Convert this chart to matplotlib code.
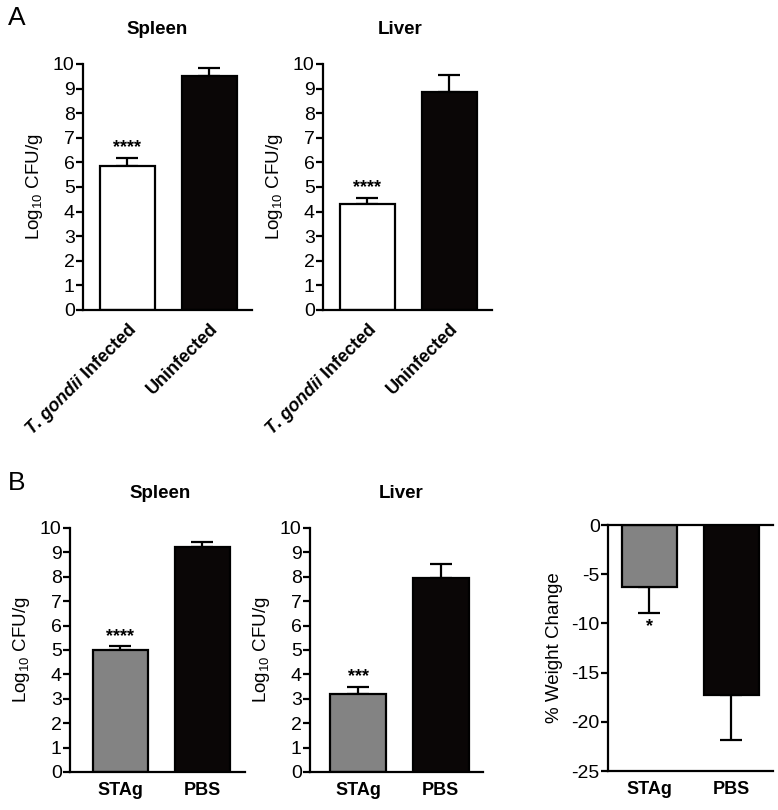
import matplotlib.pyplot as plt

plt.rcParams['font.family'] = ['Liberation Sans', 'DejaVu Sans']
plt.rcParams['mathtext.fontset'] = 'custom'
plt.rcParams['mathtext.rm'] = 'Liberation Sans'
plt.rcParams['mathtext.it'] = 'Liberation Sans:italic:bold'
plt.rcParams['mathtext.bf'] = 'Liberation Sans:bold'
plt.rcParams['axes.unicode_minus'] = False

# ---- data ----
a_groups = [r'$\mathit{T}$. $\mathit{gondii}$ Infected', 'Uninfected']
a_spleen = [5.87, 9.50]
a_spleen_err = [0.30, 0.35]
a_liver = [4.30, 8.85]
a_liver_err = [0.27, 0.72]
a_stars = ['****', '']
a_colors = ['white', '#0a0606']

b_groups = ['STAg', 'PBS']
b_spleen = [5.02, 9.22]
b_spleen_err = [0.13, 0.20]
b_liver = [3.18, 7.97]
b_liver_err = [0.30, 0.57]
b_weight = [-6.25, -17.3]
b_weight_err = [2.7, 4.6]
b_spleen_stars = ['****', '']
b_liver_stars = ['***', '']
b_weight_stars = ['*', '']
b_colors = ['#838383', '#0a0606']

LW = 1.6
W, H = 778, 810
fig = plt.figure(figsize=(W / 100, H / 100), dpi=100)


def px_axes(x0, x1, ytop, ybot):
    return fig.add_axes([x0 / W, 1 - ybot / H, (x1 - x0) / W, (ybot - ytop) / H])


def style(ax):
    for s in ['top', 'right']:
        ax.spines[s].set_visible(False)
    for s in ['left', 'bottom']:
        ax.spines[s].set_linewidth(LW)
    ax.tick_params(axis='y', length=5, width=LW, labelsize=14, pad=1)
    ax.tick_params(axis='x', length=0, pad=7)


def bar_panel(ax, vals, errs, colors, stars, xlim, star_off):
    x = range(len(vals))
    ax.bar(x, vals, width=0.67, color=colors, edgecolor='black', linewidth=LW, zorder=2)
    for xi, v, e, s in zip(x, vals, errs, stars):
        if v >= 0:
            yerr = [[0], [e]]
        else:
            yerr = [[e], [0]]
        ax.errorbar(xi, v, yerr=yerr, fmt='none', ecolor='black', elinewidth=LW,
                    capsize=8, capthick=LW, zorder=1)
        if s:
            tip = v + e if v >= 0 else v - e
            ax.text(xi, tip + star_off, s, ha='center', va='center', fontsize=13,
                    fontweight='bold')
    ax.set_xlim(*xlim)
    style(ax)


# ---- Panel A ----
for (x0, x1), vals, errs, title, tx in [((83, 252), a_spleen, a_spleen_err, 'Spleen', 157),
                                         ((323, 492), a_liver, a_liver_err, 'Liver', 400)]:
    ax = px_axes(x0, x1, 64, 310)
    bar_panel(ax, vals, errs, a_colors, a_stars, (-0.54, 1.52), 0.42)
    ax.set_ylim(0, 10)
    ax.set_yticks(range(0, 11))
    ax.set_ylabel(r'Log$_{10}$ CFU/g', fontsize=13.5, labelpad=6)
    ax.set_xticks([0, 1])
    ax.set_xticklabels(a_groups, rotation=45, ha='right', va='top', rotation_mode='anchor',
                       fontsize=13, fontweight='bold')
    fig.text(tx / W, 1 - 30 / H, title, ha='center', va='center', fontsize=13.5,
             fontweight='bold')

# ---- Panel B ----
ax = px_axes(70, 245, 528, 772)
bar_panel(ax, b_spleen, b_spleen_err, b_colors, b_spleen_stars, (-0.61, 1.52), 0.38)
ax.set_ylim(0, 10)
ax.set_yticks(range(0, 11))
ax.set_ylabel(r'Log$_{10}$ CFU/g', fontsize=13.5, labelpad=6)
ax.set_xticks([0, 1])
ax.set_xticklabels(b_groups, fontsize=13, fontweight='bold')
fig.text(160 / W, 1 - 493 / H, 'Spleen', ha='center', va='center', fontsize=13.5,
         fontweight='bold')

ax = px_axes(310, 483, 528, 772)
bar_panel(ax, b_liver, b_liver_err, b_colors, b_liver_stars, (-0.58, 1.51), 0.44)
ax.set_ylim(0, 10)
ax.set_yticks(range(0, 11))
ax.set_ylabel(r'Log$_{10}$ CFU/g', fontsize=13.5, labelpad=6)
ax.set_xticks([0, 1])
ax.set_xticklabels(b_groups, fontsize=13, fontweight='bold')
fig.text(401 / W, 1 - 493 / H, 'Liver', ha='center', va='center', fontsize=13.5,
         fontweight='bold')

ax = px_axes(608, 773, 525, 771)
bar_panel(ax, b_weight, b_weight_err, b_colors, b_weight_stars, (-0.5, 1.51), -1.4)
ax.set_ylim(-25, 0)
ax.set_yticks(range(-25, 1, 5))
ax.spines['top'].set_visible(True)
ax.spines['top'].set_linewidth(LW)
ax.set_ylabel('% Weight Change', fontsize=13.5, labelpad=6)
ax.set_xticks([0, 1])
ax.set_xticklabels(b_groups, fontsize=13, fontweight='bold')

# panel letters
fig.text(17 / W, 1 - 18 / H, 'A', ha='center', va='center', fontsize=19)
fig.text(17 / W, 1 - 483 / H, 'B', ha='center', va='center', fontsize=19)

fig.savefig('out.png', dpi=100, facecolor='white')
